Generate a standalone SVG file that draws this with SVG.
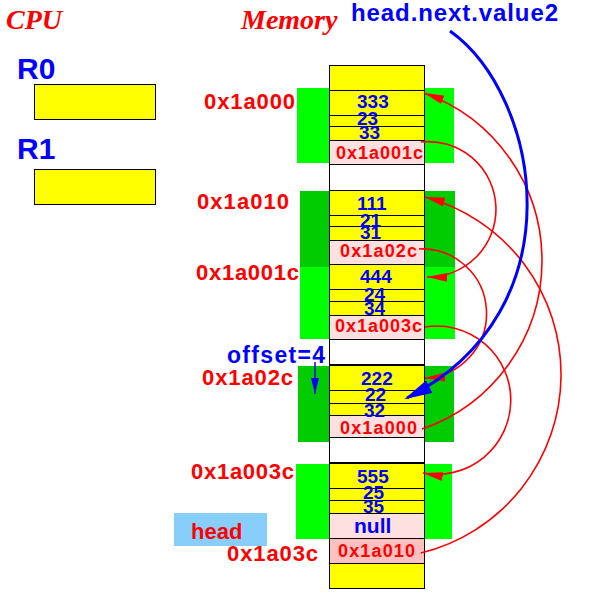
<svg xmlns="http://www.w3.org/2000/svg" width="592" height="600" viewBox="0 0 592 600">
<defs>
<marker id="ar" markerUnits="userSpaceOnUse" markerWidth="20" markerHeight="10" viewBox="0 0 20 10" refX="20" refY="5" orient="auto"><path d="M0,0.5 L20,5 L0,9.5 z" fill="#ff0000"/></marker>
<marker id="ab" markerUnits="userSpaceOnUse" markerWidth="28" markerHeight="14" viewBox="0 0 28 14" refX="25" refY="7" orient="auto"><path d="M0,0 L28,7 L0,14 z" fill="#0000ff"/></marker>
<marker id="as" markerUnits="userSpaceOnUse" markerWidth="16" markerHeight="8" viewBox="0 0 16 8" refX="16" refY="4" orient="auto"><path d="M0,0 L16,4 L0,8 z" fill="#0000ff"/></marker>
</defs>
<style>
.t{font-family:"Liberation Sans",Arial,sans-serif;font-weight:bold}
.r{fill:#ff0000}
.b{fill:#0000ff}
.ttl{font-family:"Liberation Serif","Times New Roman",serif;font-weight:bold;font-style:italic;fill:#ff0000;font-size:28px}
.y{fill:#ffff00;stroke:#000;stroke-width:1}
.p{fill:#ffe0e0;stroke:#000;stroke-width:1}
.pd{fill:#ffc0c0;stroke:#000;stroke-width:1}
.w{fill:#ffffff;stroke:#000;stroke-width:1}
.v{font-size:19px}
.a{font-size:18px}
.l{font-size:22px}
.g1{fill:#00ff00}
.g2{fill:#00cc00}
.c{fill:none;stroke:#ff0000;stroke-width:1.6;marker-end:url(#ar)}
</style>
<rect width="592" height="600" fill="#ffffff"/>

<g id="cpu">
<text class="ttl" x="6" y="29">CPU</text>
</g>
<g id="memory-title">
<text class="ttl" x="241" y="29">Memory</text>
</g>
<g id="R0">
<text class="t b" x="17" y="79" font-size="30">R0</text>
<rect x="34.5" y="84.5" width="121" height="35" fill="#ffff00" stroke="#000"/>
</g>
<g id="R1">
<text class="t b" x="17" y="159" font-size="30">R1</text>
<rect x="34.5" y="169.5" width="121" height="35" fill="#ffff00" stroke="#000"/>
</g>

<g id="backgrounds">
<rect class="g1" x="297" y="88" width="157" height="75"/>
<rect class="g2" x="300" y="191" width="155" height="76"/>
<rect class="g1" x="300" y="267" width="155" height="72"/>
<rect class="g2" x="298" y="366" width="156" height="76"/>
<rect class="g1" x="296" y="464" width="156" height="75"/>
</g>

<g id="memory-top">
<rect class="y" x="329.5" y="65.5" width="95" height="25"/>
</g>

<g id="node-1a000">
<rect class="y" x="329.5" y="90.5" width="95" height="25"/>
<rect class="y" x="329.5" y="115.5" width="95" height="11"/>
<rect class="y" x="329.5" y="126.5" width="95" height="14"/>
<rect class="p" x="329.5" y="140.5" width="95" height="24"/>
<text class="t b v" x="357" y="108">333</text>
<text class="t b v" x="357" y="125">23</text>
<text class="t b v" x="359" y="139">33</text>
<text class="t r a" x="336" y="159" textLength="87">0x1a001c</text>
<text class="t r l" x="204" y="109" textLength="91">0x1a000</text>
</g>

<g id="gap-1">
<rect class="w" x="329.5" y="164.5" width="95" height="26"/>
</g>

<g id="node-1a010">
<rect class="y" x="329.5" y="190.5" width="95" height="25"/>
<rect class="y" x="329.5" y="215.5" width="95" height="11"/>
<rect class="y" x="329.5" y="226.5" width="95" height="14"/>
<rect class="p" x="329.5" y="240.5" width="95" height="24"/>
<text class="t b v" x="357" y="210">111</text>
<text class="t b v" x="360" y="227">21</text>
<text class="t b v" x="360" y="239">31</text>
<text class="t r a" x="340" y="257" textLength="77">0x1a02c</text>
<text class="t r l" x="197" y="209" textLength="92">0x1a010</text>
</g>

<g id="node-1a001c">
<rect class="y" x="329.5" y="264.5" width="95" height="25"/>
<rect class="y" x="329.5" y="289.5" width="95" height="12"/>
<rect class="y" x="329.5" y="301.5" width="95" height="14"/>
<rect class="p" x="329.5" y="315.5" width="95" height="24"/>
<text class="t b v" x="360" y="283">444</text>
<text class="t b v" x="364" y="301">24</text>
<text class="t b v" x="364" y="315">34</text>
<text class="t r a" x="335" y="332" textLength="87">0x1a003c</text>
<text class="t r l" x="196" y="280" textLength="103">0x1a001c</text>
</g>

<g id="gap-2">
<rect class="w" x="329.5" y="339.5" width="95" height="26"/>
</g>

<g id="node-1a02c">
<rect class="y" x="329.5" y="365.5" width="95" height="25"/>
<rect class="y" x="329.5" y="390.5" width="95" height="13"/>
<rect class="y" x="329.5" y="403.5" width="95" height="12"/>
<rect class="p" x="329.5" y="415.5" width="95" height="22"/>
<line x1="329" y1="365" x2="425" y2="365" stroke="#000" stroke-width="2"/>
<text class="t b v" x="361" y="385">222</text>
<text class="t b v" x="365" y="401">22</text>
<text class="t b v" x="364" y="417">32</text>
<text class="t r a" x="340" y="434" textLength="77">0x1a000</text>
<text class="t r l" x="202" y="385" textLength="91">0x1a02c</text>
</g>

<g id="gap-3">
<rect class="w" x="329.5" y="437.5" width="95" height="26"/>
</g>

<g id="node-1a003c">
<rect class="y" x="329.5" y="463.5" width="95" height="25"/>
<rect class="y" x="329.5" y="488.5" width="95" height="12"/>
<rect class="y" x="329.5" y="500.5" width="95" height="13"/>
<rect class="p" x="329.5" y="513.5" width="95" height="25"/>
<line x1="329" y1="463" x2="425" y2="463" stroke="#000" stroke-width="2"/>
<text class="t b v" x="357" y="483">555</text>
<text class="t b v" x="363" y="499">25</text>
<text class="t b v" x="363" y="513">35</text>
<text class="t b" x="354" y="533" font-size="21">null</text>
<text class="t r l" x="191" y="479" textLength="103">0x1a003c</text>
</g>

<g id="head">
<rect x="174" y="513" width="93" height="33" fill="#87cefa"/>
<text class="t r" x="191" y="539" font-size="22">head</text>
<rect class="pd" x="329.5" y="538.5" width="95" height="25"/>
<text class="t r a" x="338" y="557" textLength="77">0x1a010</text>
<text class="t r l" x="227" y="561" textLength="91">0x1a03c</text>
</g>

<g id="memory-bottom">
<rect class="y" x="329.5" y="563.5" width="95" height="25"/>
</g>

<g id="annotations">
<text class="t b" x="227" y="363" font-size="23" textLength="98">offset=4</text>
<text class="t b" x="351" y="21" font-size="24" textLength="207">head.next.value2</text>
</g>

<g id="connectors">
<path class="c" d="M421,142 A67.7,67.7 0 1 1 427,277"/>
<path class="c" d="M419,249 A64.5,64.5 0 0 1 425,378"/>
<path class="c" d="M425,327 A74.1,74.1 0 1 1 423,473"/>
<path class="c" d="M422,429 A178.1,178.1 0 0 0 424,93"/>
<path class="c" d="M421,553 A183.8,183.8 0 0 0 425,197"/>
<path d="M450,31 C540,95 580,310 407,398" fill="none" stroke="#0000ff" stroke-width="3" marker-end="url(#ab)"/>
<path d="M315,362 L315,394" fill="none" stroke="#0000ff" stroke-width="1.5" marker-end="url(#as)"/>
</g>
</svg>
